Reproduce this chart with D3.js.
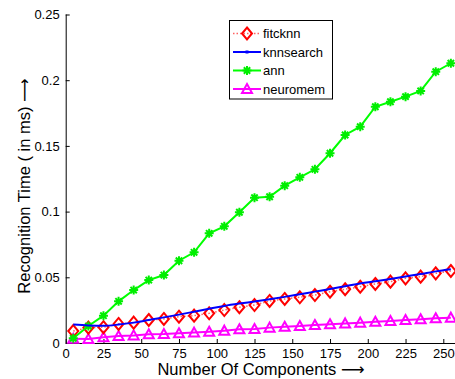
<!DOCTYPE html>
<html>
<head>
<meta charset="utf-8">
<script src="https://cdn.jsdelivr.net/npm/d3@7"></script>
<style>
  html, body { margin: 0; padding: 0; background: #fff; }
  svg { display: block; font-family: "Liberation Sans", Arial, Helvetica, sans-serif; }
</style>
</head>
<body>
<svg id="chart" width="455" height="379"></svg>
<script>
// Number of components at which recognition time was measured
const components = [5, 15, 25, 35, 45, 55, 65, 75, 85, 95, 105, 115, 125,
                    135, 145, 155, 165, 175, 185, 195, 205, 215, 225, 235, 245, 255];

// Recognition time (ms) per method
const fitcknn = [0.0091, 0.0117, 0.0120, 0.0145, 0.0155, 0.0175, 0.0183, 0.0200, 0.0208, 0.0226,
                 0.0251, 0.0272, 0.0289, 0.0320, 0.0335, 0.0348, 0.0365, 0.0390, 0.0409, 0.0428,
                 0.0449, 0.0467, 0.0492, 0.0505, 0.0530, 0.0548];
const knnsearch = [0.0141, 0.0134, 0.0131, 0.0140, 0.0155, 0.0175, 0.0195, 0.0216, 0.0238, 0.0260,
                   0.0282, 0.0300, 0.0316, 0.0333, 0.0351, 0.0371, 0.0391, 0.0411, 0.0432, 0.0453,
                   0.0470, 0.0487, 0.0506, 0.0525, 0.0545, 0.0561];
const ann = [0.0036, 0.0129, 0.0208, 0.0317, 0.0403, 0.0479, 0.0517, 0.0626, 0.0690, 0.0835,
             0.0888, 0.0995, 0.1106, 0.1113, 0.1197, 0.1261, 0.1322, 0.1444, 0.1583, 0.1646,
             0.1798, 0.1836, 0.1875, 0.1918, 0.2065, 0.2129];
const neuromem = [0.0032, 0.0030, 0.0043, 0.0053, 0.0058, 0.0066, 0.0068, 0.0074, 0.0079, 0.0086,
                  0.0094, 0.0104, 0.0107, 0.0117, 0.0124, 0.0129, 0.0137, 0.0142, 0.0149, 0.0155,
                  0.0162, 0.0167, 0.0175, 0.0180, 0.0188, 0.0193];

const xTicks = [0, 25, 50, 75, 100, 125, 150, 175, 200, 225, 250];
const yTicks = [0, 0.05, 0.1, 0.15, 0.2, 0.25];
const yTickLabels = ["0", "0.05", "0.1", "0.15", "0.2", "0.25"];

const seriesNames = ["fitcknn", "knnsearch", "ann", "neuromem"];

const svg = d3.select("#chart");

const plotLeft = 65.7, plotBottom = 343, plotTop = 14.5;
const x = d3.scaleLinear().domain([0, 250]).range([plotLeft, 443.3]);
const y = d3.scaleLinear().domain([0, 0.25]).range([plotBottom, plotTop]);
const xRightEdge = x(260);

// Axes (ticks drawn inward)
const xAxis = d3.axisBottom(x).tickValues(xTicks).tickSizeInner(-4).tickSizeOuter(0).tickPadding(8);
const yAxis = d3.axisLeft(y).tickValues(yTicks).tickFormat((d, i) => yTickLabels[i])
  .tickSizeInner(-4).tickSizeOuter(0).tickPadding(6);

const gx = svg.append("g").attr("transform", `translate(0,${plotBottom})`).call(xAxis);
gx.select(".domain").attr("d", `M${plotLeft},0.5H${xRightEdge}`);
const gy = svg.append("g").attr("transform", `translate(${plotLeft},0)`).call(yAxis);
gy.select(".domain").attr("d", `M0.5,${plotBottom}V${plotTop}`);

[gx, gy].forEach(g => {
  g.selectAll("text").attr("font-size", 13).attr("fill", "#000")
    .attr("font-family", "Liberation Sans, Arial, sans-serif");
  g.selectAll("line, path").attr("stroke", "#000");
});
gx.selectAll("text").attr("dy", "0.55em");

const pts = vals => components.map((c, i) => [x(c), y(vals[i])]);
const line = d3.line();

// Marker shapes
const diamond = (s) => `M0,${-6 * s}L${5 * s},0L0,${6 * s}L${-5 * s},0Z`;
const triangle = (s) => `M0,${-5 * s}L${5 * s},${4 * s}L${-5 * s},${4 * s}Z`;
const asterisk = (r) => {
  const d = r * Math.SQRT1_2;
  return `M0,${-r}V${r}M${-r},0H${r}M${-d},${-d}L${d},${d}M${-d},${d}L${d},${-d}`;
};

const plot = svg.append("g");

// neuromem: magenta, solid, triangles
plot.append("path").attr("d", line(pts(neuromem))).attr("fill", "none")
  .attr("stroke", "#ff00ff").attr("stroke-width", 2);
plot.selectAll(".tri").data(pts(neuromem)).join("path")
  .attr("transform", d => `translate(${d[0]},${d[1]})`).attr("d", triangle(1))
  .attr("fill", "none").attr("stroke", "#ff00ff").attr("stroke-width", 2);

// fitcknn: red dotted with diamonds
plot.append("path").attr("d", line(pts(fitcknn))).attr("fill", "none")
  .attr("stroke", "#ff6060").attr("stroke-width", 1.5).attr("stroke-dasharray", "1.5,2");
plot.selectAll(".dia").data(pts(fitcknn)).join("path")
  .attr("transform", d => `translate(${d[0]},${d[1]})`).attr("d", diamond(1))
  .attr("fill", "none").attr("stroke", "#ff0000").attr("stroke-width", 2);

// ann: green with asterisks
plot.append("path").attr("d", line(pts(ann))).attr("fill", "none")
  .attr("stroke", "#00ff00").attr("stroke-width", 2);
plot.selectAll(".ast").data(pts(ann)).join("path")
  .attr("transform", d => `translate(${d[0]},${d[1]})`).attr("d", asterisk(4.5))
  .attr("fill", "none").attr("stroke", "#00ee00").attr("stroke-width", 2);

// knnsearch: blue line
plot.append("path").attr("d", d3.line().curve(d3.curveMonotoneX)(pts(knnsearch))).attr("fill", "none")
  .attr("stroke", "#0000ff").attr("stroke-width", 2);

// Axis titles; the long arrow glyph comes from DejaVu Sans
const arrowFont = "DejaVu Sans, sans-serif";
const xt = svg.append("text").attr("x", 261).attr("y", 375).attr("text-anchor", "middle")
  .attr("font-size", 16.5).attr("fill", "#000");
xt.append("tspan").text("Number Of Components ");
xt.append("tspan").attr("font-family", arrowFont).text("\u27F6");
const yt = svg.append("text").attr("transform", "translate(30,186) rotate(-90)").attr("text-anchor", "middle")
  .attr("font-size", 16.5).attr("fill", "#000");
yt.append("tspan").text("Recognition Time ( in ms) ");
yt.append("tspan").attr("font-family", arrowFont).text("\u27F6");

// Legend
const lg = svg.append("g");
lg.append("rect").attr("x", 229.5).attr("y", 20.5).attr("width", 103).attr("height", 78.5)
  .attr("fill", "#fff").attr("stroke", "#000").attr("stroke-width", 1);
const rowY = [33.5, 52, 70.5, 89];
const styles = [
  { dash: "1.5,2", lineColor: "#ff6060", lw: 1.5 },
  { dash: null, lineColor: "#0000ff", lw: 2 },
  { dash: null, lineColor: "#00ff00", lw: 2 },
  { dash: null, lineColor: "#ff00ff", lw: 2 }
];
seriesNames.forEach((name, i) => {
  const yy = rowY[i], st = styles[i];
  lg.append("line").attr("x1", 233).attr("x2", 261).attr("y1", yy).attr("y2", yy)
    .attr("stroke", st.lineColor).attr("stroke-width", st.lw)
    .attr("stroke-dasharray", st.dash);
  const m = lg.append("path").attr("transform", `translate(247,${yy})`);
  if (i === 0) m.attr("d", diamond(1)).attr("fill", "none").attr("stroke", "#ff0000").attr("stroke-width", 2);
  if (i === 1) m.attr("d", "M-1.5,0H1.5").attr("stroke", "#0000ff").attr("stroke-width", 3);
  if (i === 2) m.attr("d", asterisk(4.5)).attr("fill", "none").attr("stroke", "#00ee00").attr("stroke-width", 2);
  if (i === 3) m.attr("d", triangle(1)).attr("fill", "none").attr("stroke", "#ff00ff").attr("stroke-width", 2);
  lg.append("text").attr("x", 263).attr("y", yy).attr("dy", "0.35em")
    .attr("font-size", 13).attr("fill", "#000").text(name);
});
</script>
</body>
</html>
